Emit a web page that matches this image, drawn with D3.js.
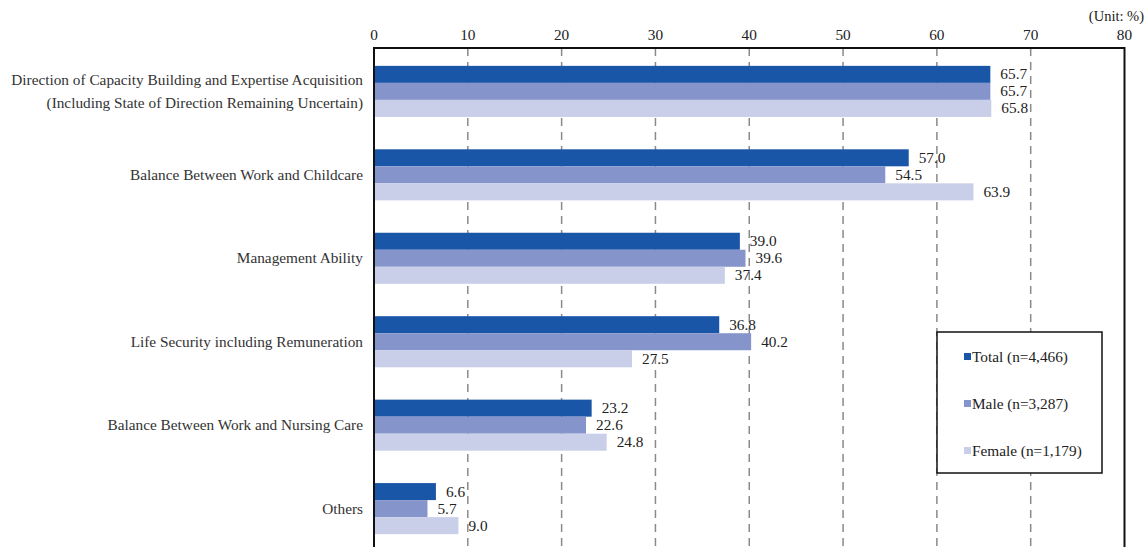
<!DOCTYPE html>
<html>
<head>
<meta charset="utf-8">
<script src="https://cdn.jsdelivr.net/npm/d3@7"></script>
<style>
  body { margin: 0; background: #fff; }
  svg text { font-family: "Liberation Serif", "Times New Roman", serif; }
</style>
</head>
<body>
<div id="chart"></div>
<script>
var categories = [
  ["Direction of Capacity Building and Expertise Acquisition", "(Including State of Direction Remaining Uncertain)"],
  ["Balance Between Work and Childcare"],
  ["Management Ability"],
  ["Life Security including Remuneration"],
  ["Balance Between Work and Nursing Care"],
  ["Others"]
];
var seriesNames = ["Total (n=4,466)", "Male (n=3,287)", "Female (n=1,179)"];
var totalValues = [65.7, 57.0, 39.0, 36.8, 23.2, 6.6];
var maleValues = [65.7, 54.5, 39.6, 40.2, 22.6, 5.7];
var femaleValues = [65.8, 63.9, 37.4, 27.5, 24.8, 9.0];
var tickValues = [0, 10, 20, 30, 40, 50, 60, 70, 80];
var colors = ["#1a56a7", "#8595cb", "#c9cee9"];

var width = 1147, height = 547;
var plotLeft = 374, plotRight = 1124.5, plotTop = 48, plotBottom = 560;
var fontSize = 15.3;

var svg = d3.select("#chart").append("svg")
  .attr("width", width)
  .attr("height", height);

var x = d3.scaleLinear().domain([0, 80]).range([plotLeft, plotRight]);
var y = d3.scaleBand().domain(d3.range(categories.length)).range([50, 550]).padding(0.388).paddingOuter(0.19);
var sub = d3.scaleBand().domain([0, 1, 2]).range([0, y.bandwidth()]);

// gridlines
svg.selectAll(".grid")
  .data(tickValues.slice(1, -1))
  .enter().append("line")
  .attr("x1", d => x(d)).attr("x2", d => x(d))
  .attr("y1", plotTop).attr("y2", plotBottom)
  .attr("stroke", "#8a8a8a")
  .attr("stroke-width", 1.5)
  .attr("stroke-dasharray", "8,6");

// top tick labels
svg.selectAll(".tick")
  .data(tickValues)
  .enter().append("text")
  .attr("x", d => x(d))
  .attr("y", 40)
  .attr("text-anchor", "middle")
  .attr("font-size", fontSize)
  .attr("fill", "#222")
  .text(d => d);

svg.append("text")
  .attr("x", 1144).attr("y", 21)
  .attr("text-anchor", "end")
  .attr("font-size", 14.5)
  .attr("fill", "#222")
  .text("(Unit: %)");

// bars
var series = [totalValues, maleValues, femaleValues];
series.forEach(function(vals, s) {
  var g = svg.append("g");
  g.selectAll("rect")
    .data(vals)
    .enter().append("rect")
    .attr("x", x(0))
    .attr("y", (d, i) => y(i) + sub(s))
    .attr("width", d => x(d) - x(0))
    .attr("height", sub.bandwidth())
    .attr("fill", colors[s]);
  g.selectAll("text")
    .data(vals)
    .enter().append("text")
    .attr("x", d => x(d) + 10)
    .attr("y", (d, i) => y(i) + sub(s) + sub.bandwidth() / 2 + 5)
    .attr("font-size", fontSize)
    .attr("fill", "#222")
    .text(d => d.toFixed(1));
});

// category labels
categories.forEach(function(lines, i) {
  var cy = y(i) + y.bandwidth() / 2;
  var t = svg.append("text")
    .attr("text-anchor", "end")
    .attr("font-size", fontSize)
    .attr("fill", "#333");
  lines.forEach(function(line, k) {
    t.append("tspan")
      .attr("x", 363)
      .attr("y", cy + 5 + (k - (lines.length - 1) / 2) * 23)
      .text(line);
  });
});

// frame
svg.append("rect")
  .attr("x", plotLeft).attr("y", plotTop)
  .attr("width", plotRight - plotLeft).attr("height", plotBottom - plotTop)
  .attr("fill", "none")
  .attr("stroke", "#111")
  .attr("stroke-width", 2);

// legend
var legend = svg.append("g").attr("transform", "translate(937,332)");
legend.append("rect")
  .attr("width", 165).attr("height", 141)
  .attr("fill", "#fff")
  .attr("stroke", "#111")
  .attr("stroke-width", 1.5);
var items = legend.selectAll(".legend")
  .data(seriesNames)
  .enter().append("g")
  .attr("transform", (d, i) => "translate(27," + (25 + i * 47) + ")");
items.append("rect")
  .attr("x", 0).attr("y", -4)
  .attr("width", 7).attr("height", 7)
  .attr("fill", (d, i) => colors[i]);
items.append("text")
  .attr("x", 8).attr("y", 5)
  .attr("font-size", fontSize)
  .attr("fill", "#222")
  .text(d => d);
</script>
</body>
</html>
